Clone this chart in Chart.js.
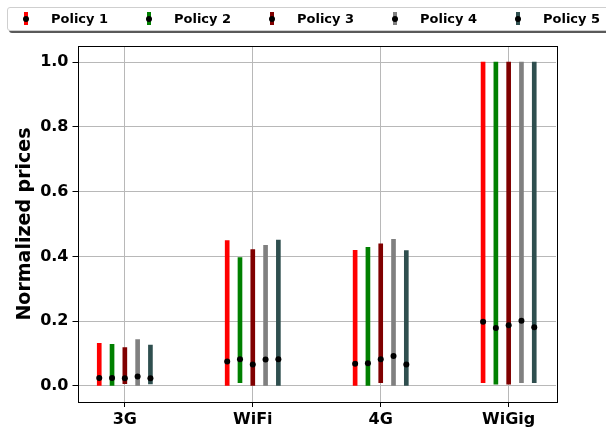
<!DOCTYPE html>
<html>
<head>
<meta charset="utf-8">
<script src="https://cdn.jsdelivr.net/npm/chart.js@4/dist/chart.umd.min.js"></script>
<style>
  html, body { margin: 0; padding: 0; background: #fff; }
  #wrap { position: relative; width: 606px; height: 432px; overflow: hidden; }
  #chart { position: absolute; left: 0; top: 0; }
  #legend {
    position: absolute; left: 7px; top: 7px; width: 640px; height: 22px;
    border: 1px solid #cfcfcf; border-radius: 3px; background: #fff;
    box-shadow: 2px 2px 0 #5a5a5a;
  }
  .mk { position: absolute; width: 4px; height: 13px; top: 4px; }
  .mk::after { content: ""; position: absolute; left: -1px; top: 4px; width: 6px; height: 6px; border-radius: 50%; background: #000; }
  .lbl { position: absolute; top: 2px; font: bold 13px "DejaVu Sans", sans-serif; color: #000; white-space: nowrap; line-height: 18px; }
</style>
</head>
<body>
<div id="wrap">
  <canvas id="chart" width="606" height="432"></canvas>
  <div id="legend"></div>
</div>
<script>
// Network types along the x axis
const categories = ['3G', 'WiFi', '4G', 'WiGig'];
const policyNames = ['Policy 1', 'Policy 2', 'Policy 3', 'Policy 4', 'Policy 5'];
const policyColors = ['#ff0000', '#008000', '#800000', '#808080', '#2f4f4f'];

// Normalized price ranges (low / high) and the marked value, per network type
const policy1Low  = [0.000, 0.000, 0.000, 0.010];
const policy1High = [0.131, 0.449, 0.419, 1.000];
const policy1Mid  = [0.024, 0.075, 0.068, 0.198];

const policy2Low  = [0.000, 0.010, 0.000, 0.005];
const policy2High = [0.128, 0.396, 0.428, 1.000];
const policy2Mid  = [0.024, 0.082, 0.070, 0.179];

const policy3Low  = [0.007, 0.000, 0.010, 0.005];
const policy3High = [0.118, 0.421, 0.439, 1.000];
const policy3Mid  = [0.023, 0.066, 0.082, 0.187];

const policy4Low  = [0.000, 0.000, 0.000, 0.010];
const policy4High = [0.143, 0.434, 0.453, 1.000];
const policy4Mid  = [0.029, 0.081, 0.092, 0.201];

const policy5Low  = [0.006, 0.000, 0.000, 0.010];
const policy5High = [0.126, 0.450, 0.418, 1.000];
const policy5Mid  = [0.023, 0.082, 0.066, 0.181];

const yTicks = [0.0, 0.2, 0.4, 0.6, 0.8, 1.0];

const lows  = [policy1Low, policy2Low, policy3Low, policy4Low, policy5Low];
const highs = [policy1High, policy2High, policy3High, policy4High, policy5High];
const mids  = [policy1Mid, policy2Mid, policy3Mid, policy4Mid, policy5Mid];
const offsets = [-0.2, -0.1, 0, 0.1, 0.2];

const datasets = [];
policyNames.forEach((name, p) => {
  datasets.push({
    type: 'bar',
    label: name,
    data: categories.map((c, i) => ({ x: i + offsets[p], y: [lows[p][i], highs[p][i]] })),
    backgroundColor: policyColors[p],
    borderWidth: 0,
    barThickness: 4,
    grouped: false,
    order: 2
  });
});
policyNames.forEach((name, p) => {
  datasets.push({
    type: 'scatter',
    label: name + ' value',
    data: categories.map((c, i) => ({ x: i + offsets[p], y: mids[p][i] })),
    backgroundColor: '#000',
    borderColor: '#000',
    pointRadius: 3,
    borderWidth: 0,
    order: 1
  });
});

// Frame around the plotting area
const frame = {
  id: 'frame',
  afterDatasetsDraw(chart) {
    const a = chart.chartArea, ctx = chart.ctx;
    ctx.save();
    ctx.strokeStyle = '#000';
    ctx.lineWidth = 1;
    ctx.strokeRect(Math.round(a.left) + 0.5, Math.round(a.top) + 0.5,
                   Math.round(a.right - a.left), Math.round(a.bottom - a.top));
    ctx.restore();
  }
};

Chart.defaults.font.family = '"DejaVu Sans", sans-serif';
Chart.defaults.font.weight = 'bold';
Chart.defaults.color = '#000';

new Chart(document.getElementById('chart'), {
  data: { datasets },
  options: {
    responsive: false,
    animation: false,
    layout: { padding: { left: 0, top: 46, right: 50, bottom: 0 } },
    plugins: { legend: { display: false }, tooltip: { enabled: false } },
    scales: {
      x: {
        type: 'linear',
        min: -0.37, max: 3.37,
        offset: false,
        afterBuildTicks: s => { s.ticks = categories.map((c, i) => ({ value: i })); },
        afterFit: s => { s.height = 30; },
        ticks: {
          font: { size: 16, weight: 'bold' },
          padding: 3,
          maxRotation: 0,
          callback: v => categories[v]
        },
        grid: { offset: false, color: '#b8b8b8', lineWidth: 1, tickLength: 5, tickColor: '#000' },
        border: { display: false }
      },
      y: {
        type: 'linear',
        min: -0.05, max: 1.05,
        afterBuildTicks: s => { s.ticks = yTicks.map(v => ({ value: v })); },
        afterFit: s => { s.width = 77.5; },
        ticks: {
          font: { size: 16, weight: 'bold' },
          padding: 4,
          callback: v => v.toFixed(1)
        },
        grid: { offset: false, color: '#b8b8b8', lineWidth: 1, tickLength: 5, tickColor: '#000' },
        border: { display: false },
        title: {
          display: true,
          text: 'Normalized prices',
          font: { size: 19, weight: 'bold' },
          padding: { top: 14, bottom: 0 }
        }
      }
    }
  },
  plugins: [frame]
});

// Legend row
const legend = document.getElementById('legend');
const markerX = [16, 139, 262, 385, 508];
const textX = [43, 166, 289, 412, 535];
policyNames.forEach((name, p) => {
  const mk = document.createElement('div');
  mk.className = 'mk';
  mk.style.left = markerX[p] + 'px';
  mk.style.background = policyColors[p];
  legend.appendChild(mk);
  const t = document.createElement('div');
  t.className = 'lbl';
  t.style.left = textX[p] + 'px';
  t.textContent = name;
  legend.appendChild(t);
});
</script>
</body>
</html>
